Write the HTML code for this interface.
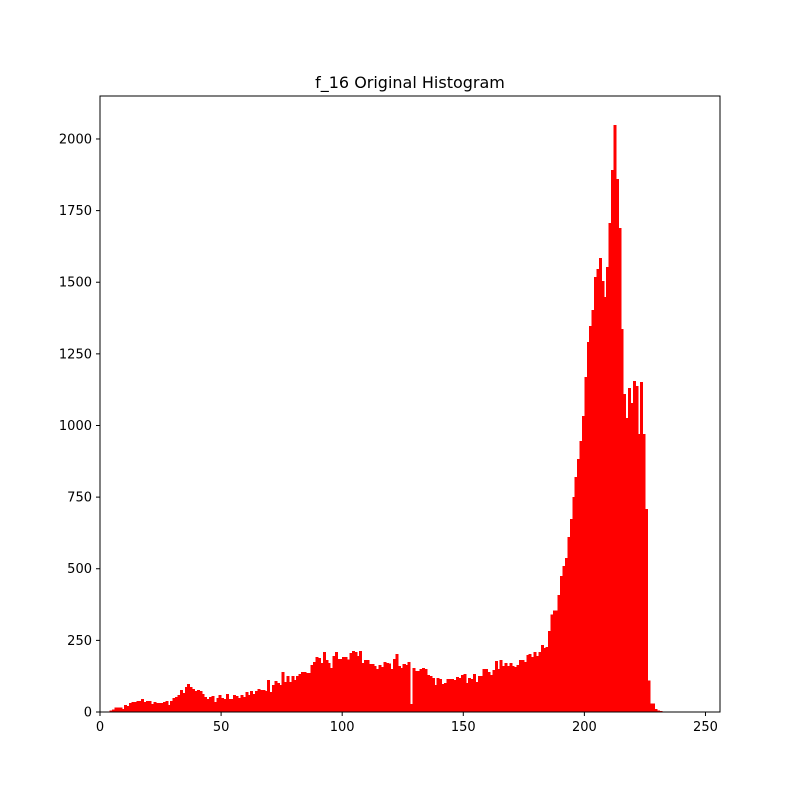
<!DOCTYPE html>
<html><head><meta charset="utf-8">
<style>
body{margin:0;background:#fff;}
svg text{font-family:"DejaVu Sans","Liberation Sans",sans-serif;fill:#000;}
</style></head>
<body>
<svg id="chart" width="800" height="800" viewBox="0 0 800 800" xmlns="http://www.w3.org/2000/svg">
<rect x="0" y="0" width="800" height="800" fill="#fff"/>
<text x="410" y="88" font-size="16" text-anchor="middle">f_16 Original Histogram</text>
<g id="bars" shape-rendering="crispEdges"></g>
<g id="xticks"></g>
<g id="yticks"></g>
<rect x="100" y="96" width="620" height="616" fill="none" stroke="#000" stroke-width="1"/>
</svg>
<script>
const binValues = [0,0,0,0,5,9,16,16,16,10,24,21,31,35,35,38,38,45,35,38,
38,28,35,31,31,31,35,38,24,38,49,52,59,77,66,87,98,87,80,73,
77,73,63,52,45,52,56,35,49,59,49,45,63,45,45,59,56,49,59,52,
70,59,73,63,73,80,77,77,73,112,70,94,108,101,94,140,105,126,105,126,
112,126,133,140,140,136,136,164,174,192,189,171,209,182,171,154,196,209,185,185,
192,192,183,206,213,210,195,213,171,182,182,168,168,161,150,164,157,174,171,169,
150,185,202,161,154,168,164,174,28,154,143,143,150,154,150,129,126,119,94,119,
115,98,101,115,115,115,112,122,119,129,133,101,119,115,133,105,126,126,150,150,
140,129,147,178,150,182,161,171,161,171,161,157,164,182,182,174,199,202,192,209,
195,209,234,224,227,283,340,355,355,408,475,510,537,611,674,750,820,883,946,1033,
1169,1291,1347,1403,1518,1546,1585,1504,1448,1553,1707,1892,2049,1860,1689,1337,1110,1026,1131,1078,
1155,1138,970,1152,970,709,110,30,30,10,5,3,0,0,0,0,0,0,0,0,
0,0,0,0,0,0];
const xTickValues = [0,50,100,150,200,250];
const yTickValues = [0,250,500,750,1000,1250,1500,1750,2000];
const xMin=0,xMax=256,yMin=0,yMax=2150;
const L=100,R=720,T=96,B=712;
const NS="http://www.w3.org/2000/svg";
function xs(v){return L+(v-xMin)/(xMax-xMin)*(R-L);}
function ys(v){return B-(v-yMin)/(yMax-yMin)*(B-T);}
const bars=document.getElementById('bars');
binValues.forEach((v,i)=>{
  if(v<=0) return;
  const r=document.createElementNS(NS,'rect');
  const x0=xs(i),x1=xs(i+1);
  r.setAttribute('x',x0);r.setAttribute('width',x1-x0+0.6);
  r.setAttribute('y',ys(v));r.setAttribute('height',B-ys(v));
  r.setAttribute('fill','#ff0000');
  
  
  bars.appendChild(r);
});
const xg=document.getElementById('xticks');
xTickValues.forEach(v=>{
  const x=xs(v);
  const l=document.createElementNS(NS,'line');
  l.setAttribute('x1',x);l.setAttribute('x2',x);l.setAttribute('y1',B);l.setAttribute('y2',B+4);
  l.setAttribute('stroke','#000');
  
  
  xg.appendChild(l);
  const t=document.createElementNS(NS,'text');
  t.setAttribute('x',x);t.setAttribute('y',B+19);t.setAttribute('font-size','13');t.setAttribute('text-anchor','middle');
  t.textContent=v;
  
  
  xg.appendChild(t);
});
const yg=document.getElementById('yticks');
yTickValues.forEach(v=>{
  const y=ys(v);
  const l=document.createElementNS(NS,'line');
  l.setAttribute('x1',L-4);l.setAttribute('x2',L);l.setAttribute('y1',y);l.setAttribute('y2',y);
  l.setAttribute('stroke','#000');
  
  
  yg.appendChild(l);
  const t=document.createElementNS(NS,'text');
  t.setAttribute('x',L-8);t.setAttribute('y',y+4.5);t.setAttribute('font-size','13');t.setAttribute('text-anchor','end');
  t.textContent=v;
  
  
  yg.appendChild(t);
});
</script>
</body></html>
